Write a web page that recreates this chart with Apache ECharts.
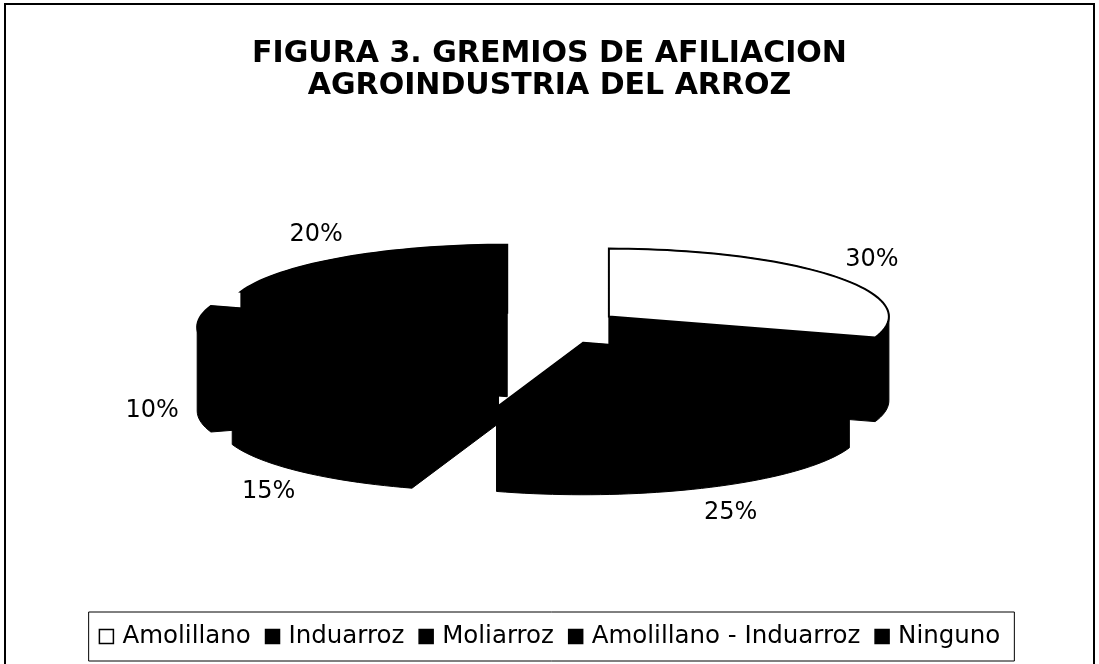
<!DOCTYPE html>
<html><head><meta charset="utf-8">
<script src="https://cdn.jsdelivr.net/npm/echarts@6/dist/echarts.min.js"></script>
<style>html,body{margin:0;padding:0;background:#fff}#c{width:1099px;height:664px}</style>
</head><body><div id="c"></div>
<script>
const titleLines = ['FIGURA 3. GREMIOS DE AFILIACION', 'AGROINDUSTRIA DEL ARROZ'];
const categories = ['Amolillano', 'Induarroz', 'Moliarroz', 'Amolillano - Induarroz', 'Ninguno'];
const values = [30, 25, 15, 10, 20];
const sliceColors = ['#ffffff', '#000000', '#000000', '#000000', '#000000'];

// layout of the tilted, exploded pie (styling, not data)
const geo = {cx: 550, cy: 327, rx: 280, ry: 68, depth: 84, explode: 0.26, labelDx: 45, labelDy: 28};

const total = values.reduce((a, b) => a + b, 0);
const angles = [];
let acc = 0;
values.forEach(v => { const a0 = acc / total * Math.PI * 2; acc += v; angles.push([a0, acc / total * Math.PI * 2]); });

function hull(pts) {
  const p = pts.slice().sort((a, b) => a[0] - b[0] || a[1] - b[1]);
  const cross = (o, a, b) => (a[0] - o[0]) * (b[1] - o[1]) - (a[1] - o[1]) * (b[0] - o[0]);
  const lower = [], upper = [];
  for (const q of p) { while (lower.length >= 2 && cross(lower[lower.length - 2], lower[lower.length - 1], q) <= 0) lower.pop(); lower.push(q); }
  for (let i = p.length - 1; i >= 0; i--) { const q = p[i]; while (upper.length >= 2 && cross(upper[upper.length - 2], upper[upper.length - 1], q) <= 0) upper.pop(); upper.push(q); }
  upper.pop(); lower.pop();
  return lower.concat(upper);
}

function sliceShapes(i) {
  const a0 = angles[i][0], a1 = angles[i][1], m = (a0 + a1) / 2;
  const ox = geo.cx + geo.explode * geo.rx * Math.sin(m);
  const oy = geo.cy - geo.explode * geo.ry * Math.cos(m);
  const top = [[ox, oy]];
  const n = Math.max(8, Math.ceil((a1 - a0) / (Math.PI / 90)));
  for (let k = 0; k <= n; k++) {
    const a = a0 + (a1 - a0) * k / n;
    top.push([ox + geo.rx * Math.sin(a), oy - geo.ry * Math.cos(a)]);
  }
  const side = hull(top.concat(top.map(p => [p[0], p[1] + geo.depth])));
  const c = Math.cos(m);
  const lx = ox + (geo.rx + geo.labelDx) * Math.sin(m);
  const ly = oy - (geo.ry + geo.labelDy) * c + (c < 0.01 ? geo.depth : 0);
  return {top, side, lx, ly};
}

const chart = echarts.init(document.getElementById('c'), null, {renderer: 'canvas'});
chart.setOption({
  backgroundColor: '#ffffff',
  animation: false,
  title: {
    text: titleLines.join('\n'),
    left: 'center', top: 33,
    textStyle: {fontFamily: 'DejaVu Sans', fontWeight: 'bold', fontSize: 30, lineHeight: 32, color: '#000'}
  },
  legend: {
    left: 'center', top: 612, orient: 'horizontal', selectedMode: false,
    padding: [12, 14, 12, 10],
    borderColor: '#000', borderWidth: 1,
    itemWidth: 14, itemHeight: 14, itemGap: 14,
    textStyle: {fontFamily: 'DejaVu Sans', fontSize: 24.5, lineHeight: 24, color: '#000', padding: [0, 0, 0, 4]},
    data: categories.map((name, i) => ({name, icon: 'rect', itemStyle: {color: sliceColors[i], borderColor: '#000', borderWidth: 1.5}}))
  },
  graphic: [{
    type: 'rect', silent: true,
    shape: {x: 5, y: 4, width: 1089, height: 720},
    style: {fill: 'none', stroke: '#000', lineWidth: 2}
  }],
  series: categories.map((name, i) => ({
    type: 'custom', name, coordinateSystem: 'none', silent: true,
    itemStyle: {color: sliceColors[i]},
    data: [values[i]],
    renderItem: (params, api) => {
      const s = sliceShapes(i);
      return {type: 'group', children: [
        {type: 'polygon', shape: {points: s.side}, style: {fill: '#000', stroke: '#000', lineWidth: 1}},
        {type: 'polygon', shape: {points: s.top}, style: {fill: sliceColors[i], stroke: '#000', lineWidth: 2}},
        {type: 'text', style: {text: api.value(0) + '%', x: s.lx, y: s.ly, fill: '#000',
          fontSize: 24, fontFamily: 'DejaVu Sans', align: 'center', verticalAlign: 'middle'}}
      ]};
    }
  }))
});
</script></body></html>
